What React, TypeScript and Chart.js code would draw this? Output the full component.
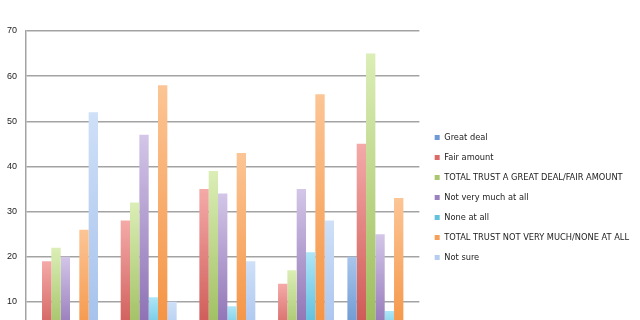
import React, { useEffect, useRef } from "react";
import { Chart, registerables } from "chart.js";

Chart.register(...registerables);

const categories = ["Group 1", "Group 2", "Group 3", "Group 4", "Group 5"];
const seriesNames = [
  "Great deal",
  "Fair amount",
  "TOTAL TRUST A GREAT DEAL/FAIR AMOUNT",
  "Not very much at all",
  "None at all",
  "TOTAL TRUST NOT VERY MUCH/NONE AT ALL",
  "Not sure",
];
const greatDeal = [3, 4, 4, 3, 20];
const fairAmount = [19, 28, 35, 14, 45];
const totalTrust = [22, 32, 39, 17, 65];
const notVeryMuch = [20, 47, 34, 35, 25];
const noneAtAll = [6, 11, 9, 21, 8];
const totalDistrust = [26, 58, 43, 56, 33];
const notSure = [52, 10, 19, 28, 2];
const yTicks = [0, 10, 20, 30, 40, 50, 60, 70];

const seriesValues = [greatDeal, fairAmount, totalTrust, notVeryMuch, noneAtAll, totalDistrust, notSure];
const topColors = ["#a9c6ec", "#f4aaa8", "#dbeeb6", "#d3c6e8", "#aee6f7", "#fcc595", "#cfe0f8"];
const bottomColors = ["#5a8bcb", "#c94f4b", "#98b955", "#8566ad", "#45b3d6", "#f48f3c", "#a2bfeb"];
const legendColors = ["#6f9bd4", "#dc6a66", "#a9c86d", "#9a82bd", "#62c1dd", "#f6a05a", "#b5cdf0"];

const font = "'Liberation Sans', Arial, sans-serif";
const legendFont = "'Liberation Sans Narrow', 'Arial Narrow', 'DejaVu Sans Condensed', 'Liberation Sans', sans-serif";

function gradientFor(i: number) {
  return (ctx: any) => {
    const chart = ctx.chart;
    const area = chart.chartArea;
    if (!area || ctx.type !== "data") return bottomColors[i];
    const ys = chart.scales.y;
    const v = typeof ctx.raw === "number" ? ctx.raw : 0;
    const yTop = ys.getPixelForValue(v);
    const yBase = ys.getPixelForValue(0);
    if (!isFinite(yTop) || !isFinite(yBase) || yBase - yTop < 1) return bottomColors[i];
    const g = chart.ctx.createLinearGradient(0, yTop, 0, yBase);
    g.addColorStop(0, topColors[i]);
    g.addColorStop(1, bottomColors[i]);
    return g;
  };
}

const wideLegend = {
  id: "wideLegend",
  beforeLayout(chart: any) {
    const lg = chart.legend;
    if (lg && !lg.__patched) {
      const orig = lg.update.bind(lg);
      lg.update = (mw: number, mh: number, m: any) => orig(Math.max(mw, 260), mh, m);
      lg.__patched = true;
    }
  },
};

export default function App() {
  const ref = useRef<HTMLCanvasElement | null>(null);
  useEffect(() => {
    if (!ref.current) return;
    const chart = new Chart(ref.current, {
      type: "bar",
      data: {
        labels: categories,
        datasets: seriesNames.map((name, i) => ({
          label: name,
          data: seriesValues[i],
          backgroundColor: gradientFor(i),
          borderWidth: 0,
          categoryPercentage: 0.83,
          barPercentage: 1.0,
        })),
      },
      plugins: [wideLegend],
      options: {
        animation: false,
        responsive: false,
        maintainAspectRatio: false,
        layout: { padding: { top: 31, left: 6, right: 1, bottom: 33 } },
        plugins: {
          tooltip: { enabled: false },
          legend: {
            position: "right",
            title: { display: true, text: "", font: { size: 8, lineHeight: 1 }, padding: 0.5 },
            labels: {
              boxWidth: 5,
              boxHeight: 5,
              padding: 10.8,
              color: "#222",
              font: { family: legendFont, size: 9.2 },
              generateLabels: (chart: any) => {
                const items = (Chart.defaults.plugins.legend.labels as any).generateLabels(chart);
                return items.map((it: any, i: number) => ({
                  ...it,
                  fillStyle: legendColors[i],
                  strokeStyle: legendColors[i],
                  lineWidth: 0,
                }));
              },
            },
          },
        },
        scales: {
          x: {
            grid: { display: false },
            border: { display: false },
            ticks: { display: false },
          },
          y: {
            min: 0,
            max: 70,
            afterBuildTicks: (scale: any) => {
              scale.ticks = yTicks.map((v) => ({ value: v }));
            },
            afterFit: (scale: any) => {
              scale.width = 20;
            },
            grid: { color: "#a3a3a3", lineWidth: 1.5, drawTicks: false },
            border: { display: true, color: "#a3a3a3", width: 1.5 },
            ticks: { color: "#222", padding: 9, font: { family: font, size: 9 } },
          },
          yGap: {
            position: "right",
            display: true,
            grid: { display: false },
            border: { display: false },
            ticks: { display: false },
            afterFit: (scale: any) => {
              scale.width = 4.5;
            },
          },
        },
      } as any,
    });
    return () => chart.destroy();
  }, []);
  return (
    <div
      style={{
        position: "fixed",
        left: 0,
        top: 0,
        width: 640,
        height: 320,
        overflow: "hidden",
        background: "#fff",
      }}
    >
      <canvas ref={ref} width={640} height={388} style={{ display: "block", width: 640, height: 388 }} />
    </div>
  );
}
